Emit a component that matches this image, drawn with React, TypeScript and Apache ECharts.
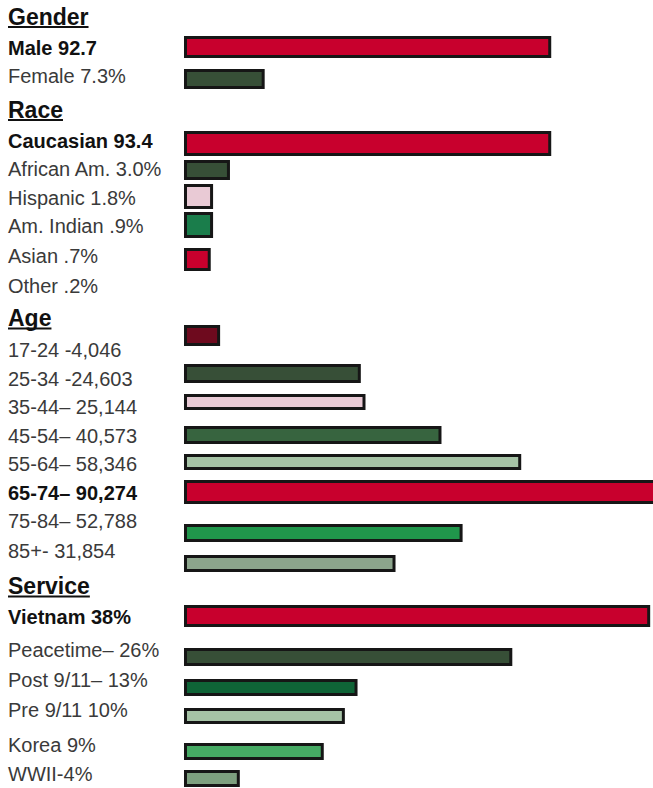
import React, { useEffect, useRef } from "react";
import * as echarts from "echarts";

// ---------- DATA ----------
const sectionTitles = ["Gender", "Race", "Age", "Service"];

const genderLabels = ["Male 92.7", "Female 7.3%"];
const genderBold = [true, false];
// bar lengths as drawn in the infographic (0–100 of the plot width)
const genderBarLength = [78.3, 17.2];

const raceLabels = ["Caucasian 93.4", "African Am. 3.0%", "Hispanic 1.8%", "Am. Indian .9%", "Asian .7%", "Other .2%"];
const raceBold = [true, false, false, false, false, false];
const raceBarLength = [78.3, 9.8, 6.2, 6.2, 5.7, 0];

const ageLabels = ["17-24 -4,046", "25-34 -24,603", "35-44– 25,144", "45-54– 40,573", "55-64– 58,346", "65-74– 90,274", "75-84– 52,788", "85+- 31,854"];
const ageBold = [false, false, false, false, false, true, false, false];
const ageBarLength = [7.7, 37.7, 38.7, 54.9, 71.9, 102, 59.4, 45.1];

const serviceLabels = ["Vietnam 38%", "Peacetime– 26%", "Post 9/11– 13%", "Pre 9/11 10%", "Korea 9%", "WWII-4%"];
const serviceBold = [true, false, false, false, false, false];
const serviceBarLength = [99.4, 70.0, 37.0, 34.3, 29.8, 11.9];

// ---------- STYLE ----------
const RED = "#c8002d";
const DKGREEN = "#374f37";
const PINK = "#e9cad5";
const genderColors = [RED, DKGREEN];
const raceColors = [RED, DKGREEN, PINK, "#1a7d4b", RED, RED];
const ageColors = ["#6e0a1e", DKGREEN, PINK, "#37643f", "#a6c3a6", RED, "#20964b", "#8ca58c"];
const serviceColors = [RED, DKGREEN, "#0f6437", "#a6c3a6", "#46aa64", "#7da07f"];

// ---------- LAYOUT ----------
const titleY = [16.5, 109.5, 318, 586];
const genderLabelY = [47.5, 76];
const raceLabelY = [141, 169, 197.5, 226, 256, 286];
const ageLabelY = [350, 379, 407, 436, 464, 493, 521, 551];
const serviceLabelY = [617, 650, 680, 710, 745, 774];
const genderBarBox = [[36, 58], [69, 89]];
const raceBarBox = [[131, 156], [160, 180], [184, 209], [212, 238], [248, 271], [278, 294]];
const ageBarBox = [[325, 346], [364, 383], [394, 410], [426, 444], [454, 470], [480, 504], [524, 542], [555, 572]];
const serviceBarBox = [[605, 627], [648, 666], [679, 696], [708, 724], [743, 760], [770, 787]];

const FONT = '"Liberation Sans", Arial, sans-serif';

export default function App() {
  const ref = useRef<HTMLDivElement>(null);
  useEffect(() => {
    if (!ref.current) return;
    const chart = echarts.init(ref.current, undefined, { renderer: "svg" });

    const sections = [
      { labels: genderLabels, bold: genderBold, len: genderBarLength, colors: genderColors, ly: genderLabelY, box: genderBarBox },
      { labels: raceLabels, bold: raceBold, len: raceBarLength, colors: raceColors, ly: raceLabelY, box: raceBarBox },
      { labels: ageLabels, bold: ageBold, len: ageBarLength, colors: ageColors, ly: ageLabelY, box: ageBarBox },
      { labels: serviceLabels, bold: serviceBold, len: serviceBarLength, colors: serviceColors, ly: serviceLabelY, box: serviceBarBox },
    ];

    const ctx = document.createElement("canvas").getContext("2d")!;
    const grids: any[] = [];
    const xAxes: any[] = [];
    const yAxes: any[] = [];
    const series: any[] = [];
    const graphics: any[] = [];

    sections.forEach((s, si) => {
      const titleFont = `bold 23px ${FONT}`;
      ctx.font = titleFont;
      const tw = ctx.measureText(sectionTitles[si]).width;
      graphics.push({
        type: "text",
        x: 8,
        y: titleY[si],
        style: { text: sectionTitles[si], font: titleFont, fill: "#111", textVerticalAlign: "middle", verticalAlign: "middle" },
      });
      graphics.push({ type: "rect", shape: { x: 8, y: titleY[si] + 9.5, width: tw, height: 2 }, style: { fill: "#111" } });

      s.labels.forEach((lab, i) => {
        graphics.push({
          type: "text",
          x: 8,
          y: s.ly[i],
          style: {
            text: lab,
            font: `${s.bold[i] ? "bold " : ""}20px ${FONT}`,
            fill: s.bold[i] ? "#111" : "#3a3a3a",
            textVerticalAlign: "middle",
            verticalAlign: "middle",
          },
        });
        if (s.len[i] > 0) {
          const idx = grids.length;
          const [t, b] = s.box[i];
          grids.push({ left: 184, width: 470, top: t, height: b - t });
          xAxes.push({ type: "value", gridIndex: idx, min: 0, max: 100, show: false });
          yAxes.push({ type: "category", gridIndex: idx, data: [lab], show: false });
          series.push({
            type: "bar",
            xAxisIndex: idx,
            yAxisIndex: idx,
            data: [s.len[i]],
            barWidth: "100%",
            clip: false,
            silent: true,
            itemStyle: { color: s.colors[i], borderColor: "#161616", borderWidth: 3 },
          });
        }
      });
    });

    chart.setOption({
      animation: false,
      grid: grids,
      xAxis: xAxes,
      yAxis: yAxes,
      series,
      graphic: graphics,
    });
    return () => chart.dispose();
  }, []);

  return (
    <div
      ref={ref}
      style={{ position: "absolute", left: 0, top: 0, width: 653, height: 788, background: "#fff" }}
    />
  );
}
